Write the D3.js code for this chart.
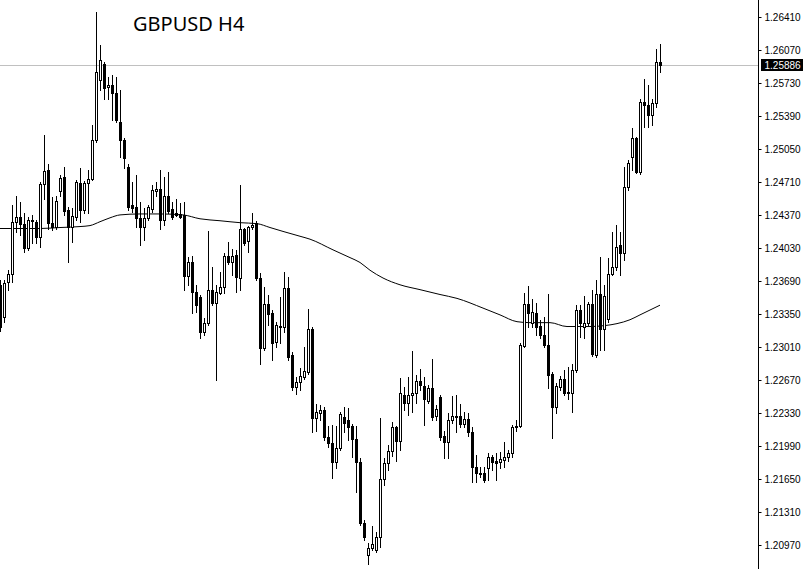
<!DOCTYPE html>
<html><head><meta charset="utf-8">
<script src="https://cdn.jsdelivr.net/npm/d3@7"></script>
<style>html,body{margin:0;padding:0;background:#fff;}svg{display:block;}</style>
</head><body>
<svg id="chart" width="805" height="569"></svg>
<script>
const title = "GBPUSD H4";
const openV = [1.2362,1.2329,1.2365,1.2373,1.2427,1.2432,1.2425,1.2400,1.2429,1.2427,1.2411,1.2466,1.2480,1.2426,1.2422,1.2459,1.2473,1.2439,1.2422,1.2432,1.2467,1.2439,1.2467,1.2471,1.2511,1.2573,1.2589,1.2566,1.2568,1.2560,1.2530,1.2511,1.2483,1.2444,1.2442,1.2431,1.2422,1.2431,1.2440,1.2459,1.2461,1.2429,1.2453,1.2440,1.2436,1.2435,1.2434,1.2371,1.2385,1.2355,1.2349,1.2313,1.2323,1.2357,1.2343,1.2354,1.2360,1.2392,1.2385,1.2393,1.2369,1.2419,1.2407,1.2422,1.2426,1.2369,1.2297,1.2342,1.2333,1.2303,1.2319,1.2319,1.2359,1.2290,1.2257,1.2262,1.2267,1.2272,1.2316,1.2225,1.2230,1.2233,1.2205,1.2199,1.2179,1.2194,1.2226,1.2223,1.2216,1.2203,1.2179,1.2117,1.2084,1.2091,1.2089,1.2102,1.2162,1.2178,1.2191,1.2215,1.2201,1.2248,1.2240,1.2248,1.2251,1.2263,1.2258,1.2242,1.2256,1.2227,1.2246,1.2206,1.2200,1.2223,1.2227,1.2227,1.2219,1.2224,1.2210,1.2174,1.2168,1.2168,1.2173,1.2185,1.2180,1.2179,1.2181,1.2185,1.2189,1.2216,1.2216,1.2299,1.2342,1.2323,1.2333,1.2320,1.2310,1.2300,1.2270,1.2236,1.2257,1.2265,1.2252,1.2251,1.2274,1.2336,1.2318,1.2323,1.2342,1.2290,1.2352,1.2316,1.2327,1.2373,1.2380,1.2403,1.2395,1.2463,1.2494,1.2513,1.2478,1.2550,1.2547,1.2537,1.2549,1.2592];
const highV = [1.2367,1.2367,1.2377,1.2444,1.2453,1.2447,1.2436,1.2432,1.2434,1.2429,1.2468,1.2516,1.2486,1.2452,1.2453,1.2475,1.2483,1.2442,1.2441,1.2470,1.2482,1.2469,1.2480,1.2527,1.2643,1.2609,1.2592,1.2576,1.2578,1.2576,1.2563,1.2513,1.2486,1.2468,1.2475,1.2447,1.2441,1.2444,1.2465,1.2468,1.2480,1.2473,1.2478,1.2447,1.2450,1.2446,1.2447,1.2391,1.2392,1.2362,1.2351,1.2328,1.2417,1.2380,1.2362,1.2375,1.2395,1.2406,1.2399,1.2398,1.2465,1.2421,1.2423,1.2436,1.2428,1.2374,1.2360,1.2351,1.2336,1.2324,1.2349,1.2375,1.2370,1.2293,1.2267,1.2276,1.2298,1.2337,1.2318,1.2239,1.2238,1.2236,1.2217,1.2218,1.2217,1.2231,1.2236,1.2235,1.2219,1.2217,1.2184,1.2120,1.2096,1.2113,1.2107,1.2225,1.2184,1.2197,1.2221,1.2216,1.2266,1.2257,1.2267,1.2294,1.2269,1.2275,1.2267,1.2259,1.2286,1.2238,1.2248,1.2211,1.2230,1.2247,1.2248,1.2239,1.2231,1.2230,1.2215,1.2187,1.2174,1.2174,1.2189,1.2187,1.2189,1.2190,1.2200,1.2192,1.2218,1.2223,1.2302,1.2354,1.2361,1.2347,1.2343,1.2326,1.2329,1.2352,1.2272,1.2261,1.2268,1.2274,1.2277,1.2280,1.2341,1.2341,1.2350,1.2344,1.2357,1.2367,1.2391,1.2362,1.2390,1.2416,1.2424,1.2416,1.2483,1.2491,1.2524,1.2514,1.2553,1.2574,1.2568,1.2553,1.2605,1.2610];
const lowV = [1.2314,1.2324,1.2357,1.2365,1.2416,1.2413,1.2396,1.2398,1.2405,1.2405,1.2401,1.2450,1.2419,1.2418,1.2420,1.2453,1.2434,1.2386,1.2406,1.2429,1.2427,1.2436,1.2436,1.2470,1.2509,1.2563,1.2553,1.2553,1.2532,1.2530,1.2494,1.2482,1.2439,1.2437,1.2422,1.2403,1.2408,1.2429,1.2437,1.2453,1.2419,1.2424,1.2436,1.2430,1.2433,1.2431,1.2357,1.2362,1.2333,1.2334,1.2307,1.2310,1.2321,1.2341,1.2264,1.2352,1.2354,1.2383,1.2372,1.2355,1.2357,1.2403,1.2396,1.2420,1.2367,1.2280,1.2295,1.2321,1.2285,1.2298,1.2302,1.2313,1.2285,1.2254,1.2249,1.2254,1.2265,1.2270,1.2210,1.2211,1.2223,1.2202,1.2195,1.2163,1.2173,1.2192,1.2210,1.2202,1.2185,1.2148,1.2115,1.2099,1.2074,1.2089,1.2087,1.2092,1.2156,1.2171,1.2186,1.2180,1.2192,1.2233,1.2228,1.2231,1.2240,1.2254,1.2218,1.2240,1.2223,1.2223,1.2202,1.2184,1.2184,1.2220,1.2210,1.2215,1.2215,1.2206,1.2159,1.2159,1.2164,1.2159,1.2161,1.2171,1.2161,1.2173,1.2174,1.2180,1.2185,1.2211,1.2215,1.2298,1.2318,1.2319,1.2310,1.2307,1.2298,1.2256,1.2204,1.2230,1.2254,1.2248,1.2244,1.2231,1.2272,1.2308,1.2307,1.2321,1.2289,1.2288,1.2295,1.2295,1.2324,1.2372,1.2377,1.2372,1.2388,1.2460,1.2480,1.2477,1.2476,1.2525,1.2525,1.2527,1.2545,1.2581];
const closeV = [1.2318,1.2364,1.2373,1.2427,1.2432,1.2425,1.2400,1.2429,1.2428,1.2411,1.2466,1.2479,1.2426,1.2422,1.2448,1.2472,1.2438,1.2422,1.2433,1.2468,1.2439,1.2467,1.2471,1.2511,1.2581,1.2594,1.2565,1.2568,1.2560,1.2532,1.2511,1.2493,1.2442,1.2441,1.2431,1.2422,1.2431,1.2442,1.2460,1.2461,1.2429,1.2453,1.2438,1.2432,1.2434,1.2432,1.2371,1.2385,1.2355,1.2341,1.2313,1.2323,1.2357,1.2343,1.2355,1.2360,1.2392,1.2385,1.2392,1.2370,1.2420,1.2405,1.2422,1.2424,1.2369,1.2297,1.2342,1.2332,1.2302,1.2321,1.2320,1.2359,1.2288,1.2257,1.2262,1.2268,1.2273,1.2316,1.2225,1.2231,1.2233,1.2205,1.2199,1.2179,1.2194,1.2229,1.2220,1.2215,1.2203,1.2179,1.2117,1.2102,1.2091,1.2095,1.2102,1.2162,1.2178,1.2191,1.2215,1.2201,1.2250,1.2240,1.2248,1.2250,1.2263,1.2259,1.2244,1.2256,1.2226,1.2234,1.2205,1.2200,1.2223,1.2227,1.2226,1.2219,1.2224,1.2210,1.2174,1.2168,1.2167,1.2161,1.2185,1.2179,1.2178,1.2183,1.2185,1.2189,1.2215,1.2215,1.2300,1.2342,1.2333,1.2334,1.2319,1.2310,1.2300,1.2269,1.2236,1.2258,1.2265,1.2251,1.2251,1.2274,1.2336,1.2323,1.2323,1.2342,1.2291,1.2352,1.2316,1.2350,1.2373,1.2380,1.2401,1.2395,1.2463,1.2488,1.2513,1.2478,1.2550,1.2547,1.2537,1.2549,1.2592,1.25886];
const maIndex = [0,10,15,20,22.5,25,27.5,30,35,40,45.75,50,55,60,64.25,67.5,70.75,75,77.5,83.25,87.5,90,92.5,95.75,100,105,110,114.25,120.75,125,129.25,132.5,137.5,141.75,147.5,151.25,154.25,157.5,160,162.5,165];
const maValue = [1.2420,1.2420,1.2421,1.2422,1.2423,1.2427,1.2431,1.2434,1.2435,1.2435,1.2434,1.2430,1.2428,1.2426,1.2425,1.2421,1.2417,1.2412,1.2409,1.2398,1.2390,1.2385,1.2377,1.2369,1.2362,1.2357,1.2352,1.2348,1.2338,1.2331,1.2324,1.2323,1.2323,1.2319,1.2319,1.2320,1.2322,1.2326,1.2331,1.2336,1.2341];
const tickLabels = [1.26410,1.26070,1.25730,1.25390,1.25050,1.24710,1.24370,1.24030,1.23690,1.23350,1.23010,1.22670,1.22330,1.21990,1.21650,1.21310,1.20970];
const lastPrice = 1.25886;

const W = 805, H = 569, axisX = 758;
const svg = d3.select("#chart");
const x = d3.scaleLinear().domain([0, 165]).range([0, 660]);
const y = d3.scaleLinear().domain([1.20970, 1.26410]).range([542, 14]);
const data = openV.map((o,i)=>({i, o, h:highV[i], l:lowV[i], c:closeV[i]}));

svg.append("defs").append("clipPath").attr("id","plot")
  .append("rect").attr("x",0).attr("y",0).attr("width",axisX).attr("height",H);
const plot = svg.append("g").attr("clip-path","url(#plot)");

// last price line
const ly = Math.round(y(lastPrice)) + 0.5;
plot.append("line").attr("x1",0).attr("x2",axisX).attr("y1",ly).attr("y2",ly)
  .attr("stroke","#c0c0c0").attr("stroke-width",1);

// moving average
const maData = maIndex.map((k,j)=>({k, v:maValue[j]}));
plot.append("path").datum(maData)
  .attr("d", d3.line().x(d=>x(d.k)).y(d=>y(d.v)).curve(d3.curveMonotoneX))
  .attr("fill","none").attr("stroke","#000").attr("stroke-width",1);

// candles
const cg = plot.append("g");
data.forEach(d=>{
  const cx = Math.round(x(d.i));
  const yh = Math.round(y(d.h)), yl = Math.round(y(d.l));
  cg.append("rect").attr("x",cx).attr("y",yh).attr("width",1).attr("height",Math.max(1,yl-yh+1)).attr("fill","#000");
  const top = Math.round(y(Math.max(d.o,d.c))), bot = Math.round(y(Math.min(d.o,d.c)));
  if (d.c > d.o) {
    cg.append("rect").attr("x",cx-0.5).attr("y",top+0.5).attr("width",2).attr("height",Math.max(0,bot-top))
      .attr("fill","#fff").attr("stroke","#000").attr("stroke-width",1);
  } else {
    cg.append("rect").attr("x",cx-1).attr("y",top).attr("width",3).attr("height",Math.max(1,bot-top+1)).attr("fill","#000");
  }
});

// axis
svg.append("line").attr("x1",axisX+0.5).attr("x2",axisX+0.5).attr("y1",0).attr("y2",H)
  .attr("stroke","#000").attr("stroke-width",1);
const axis = d3.axisRight(y).tickValues(tickLabels).tickSize(3).tickPadding(3).tickFormat(d3.format(".5f"));
const ag = svg.append("g").attr("transform",`translate(${axisX+0.5},3)`).call(axis);
ag.select(".domain").remove();
ag.selectAll("text").attr("font-family","'Liberation Sans', Arial, sans-serif").attr("font-size","10px").attr("fill","#000");
ag.selectAll("line").attr("stroke","#000");

// last price tag
const tag = svg.append("g");
const ty = Math.round(y(lastPrice));
tag.append("rect").attr("x",axisX+3).attr("y",ty-6).attr("width",42).attr("height",12).attr("fill","#000");
tag.append("text").attr("x",axisX+6.5).attr("y",ty).attr("dy","0.35em")
  .attr("font-family","'Liberation Sans', Arial, sans-serif").attr("font-size","10px").attr("fill","#fff")
  .text(d3.format(".5f")(lastPrice));

// title
svg.append("text").attr("x",133).attr("y",31).attr("font-family","'Noto Sans', 'Open Sans', sans-serif")
  .attr("font-size","20px").attr("fill","#000").text(title);
</script>
</body></html>
